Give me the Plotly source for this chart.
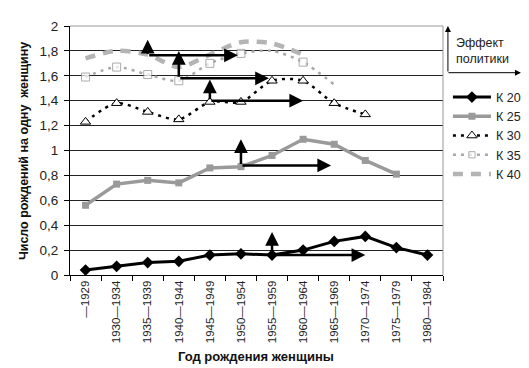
import plotly.graph_objects as go

categories = ["—1929", "1930—1934", "1935—1939", "1940—1944", "1945—1949", "1950—1954",
              "1955—1959", "1960—1964", "1965—1969", "1970—1974", "1975—1979", "1980—1984"]
series_names = ["К 20", "К 25", "К 30", "К 35", "К 40"]
k20 = [0.04, 0.07, 0.10, 0.11, 0.16, 0.17, 0.16, 0.20, 0.27, 0.31, 0.22, 0.16]
k25 = [0.56, 0.73, 0.76, 0.74, 0.86, 0.87, 0.96, 1.09, 1.05, 0.92, 0.81]
k30 = [1.23, 1.38, 1.31, 1.25, 1.39, 1.39, 1.56, 1.56, 1.38, 1.29]
k35 = [1.59, 1.67, 1.61, 1.56, 1.70, 1.78, 1.80, 1.71, 1.53]
k40 = [1.74, 1.80, 1.77, 1.67, 1.77, 1.87, 1.86, 1.77]

# policy-effect arrows (category index / value)
arrow_base_idx = [2, 3, 4, 5, 6]
arrow_base_val = [1.765, 1.58, 1.40, 0.88, 0.16]
arrow_up_val = [1.89, 1.80, 1.57, 1.09, 0.345]
arrow_right_idx = [4.9, 5.9, 7.0, 7.9, 9.0]

y_ticks = [0, 0.2, 0.4, 0.6, 0.8, 1.0, 1.2, 1.4, 1.6, 1.8, 2.0]

FONT = "Liberation Sans, Arial, sans-serif"

fig = go.Figure()
fig.add_trace(go.Scatter(x=categories[:len(k20)], y=k20, name=series_names[0], mode="lines+markers",
                         line=dict(color="black", width=3),
                         marker=dict(symbol="diamond", size=9, color="black"),
                         legendgroup="a"))
fig.add_trace(go.Scatter(x=categories[:len(k25)], y=k25, name=series_names[1], mode="lines+markers",
                         line=dict(color="#9a9a9a", width=3.5),
                         marker=dict(symbol="square", size=7, color="#9a9a9a"),
                         legendgroup="b"))
fig.add_trace(go.Scatter(x=categories[:len(k30)], y=k30, name=series_names[2], mode="lines+markers",
                         line=dict(color="black", width=2.5, dash="3px,5px", shape="spline", smoothing=0.8),
                         marker=dict(symbol="triangle-up", size=9, color="white",
                                     line=dict(color="black", width=1)),
                         legendgroup="c"))
k35_sizes = [8] * len(k35)
k35_sizes[6] = 0
k35_sizes[-1] = 0
fig.add_trace(go.Scatter(x=categories[:len(k35)], y=k35, name=series_names[3], mode="lines+markers",
                         line=dict(color="#a8a8a8", width=2.5, dash="3px,5px", shape="spline", smoothing=0.8),
                         marker=dict(symbol="square", size=k35_sizes, color="white",
                                     line=dict(color="#8a8a8a", width=1)),
                         legendgroup="d"))
fig.add_trace(go.Scatter(x=categories[:len(k40)], y=k40, name=series_names[4], mode="lines",
                         line=dict(color="#b4b4b4", width=4.5, dash="10px,8px", shape="spline", smoothing=0.8),
                         legendgroup="e"))

annotations = []
for bi, bv, uv, ri in zip(arrow_base_idx, arrow_base_val, arrow_up_val, arrow_right_idx):
    annotations.append(dict(x=bi, y=uv, ax=bi, ay=bv, xref="x", yref="y", axref="x", ayref="y",
                            text="", showarrow=True, arrowhead=2, arrowsize=1.1, arrowwidth=2.5,
                            arrowcolor="black"))
    annotations.append(dict(x=ri, y=bv, ax=bi, ay=bv, xref="x", yref="y", axref="x", ayref="y",
                            text="", showarrow=True, arrowhead=2, arrowsize=1.1, arrowwidth=2.5,
                            arrowcolor="black"))

# "Эффект политики" key
annotations.append(dict(x=(445 - 62) / 378, y=1.0, xref="paper", yref="paper", ax=0, ay=47,
                        text="", showarrow=True, arrowhead=2, arrowsize=1.2, arrowwidth=1,
                        arrowcolor="black"))
annotations.append(dict(x=(519 - 62) / 378, y=1 - (59 - 11) / 256, xref="paper", yref="paper",
                        ax=-74, ay=0, text="", showarrow=True, arrowhead=2, arrowsize=1.2,
                        arrowwidth=1, arrowcolor="black"))
annotations.append(dict(x=(451 - 62) / 378, y=1 - (19 - 11) / 256, xref="paper", yref="paper",
                        text="Эффект<br>политики", showarrow=False, xanchor="left", yanchor="top",
                        align="left", font=dict(family=FONT, size=12.5, color="#222")))

# axis titles
annotations.append(dict(x=(250 - 62) / 378, y=-(351 - 267) / 256, xref="paper", yref="paper",
                        text="<b>Год рождения женщины</b>", showarrow=False,
                        xanchor="center", yanchor="middle",
                        font=dict(family=FONT, size=13, color="#111")))
annotations.append(dict(x=-(62 - 16) / 378, y=1 - (140 - 11) / 256, xref="paper", yref="paper",
                        text="<b>Число рождений на одну  женщину</b>", showarrow=False, textangle=-90,
                        xanchor="center", yanchor="middle",
                        font=dict(family=FONT, size=12.5, color="#111")))

fig.update_layout(
    width=529, height=368,
    margin=dict(l=62, r=89, t=11, b=101),
    paper_bgcolor="white", plot_bgcolor="white",
    separators=", ",
    font=dict(family=FONT, color="#222"),
    showlegend=True,
    legend=dict(x=(445 - 62) / 378, y=1 - (69 - 11) / 256, xanchor="left", yanchor="top",
                font=dict(family=FONT, size=12.5, color="#222"), itemwidth=38,
                tracegroupgap=0, bgcolor="rgba(0,0,0,0)"),
    annotations=annotations,
    shapes=[
        dict(type="line", xref="paper", yref="paper", x0=0, x1=1, y0=1, y1=1,
             line=dict(color="#999", width=1)),
        dict(type="line", xref="paper", yref="paper", x0=1, x1=1, y0=0, y1=1,
             line=dict(color="#999", width=1)),
    ],
)
fig.update_xaxes(type="category", categoryorder="array", categoryarray=categories,
                 range=[-0.5, len(categories) - 0.5],
                 tickson="boundaries", ticks="outside", ticklen=5, tickcolor="black",
                 tickangle=-90, tickfont=dict(family=FONT, size=11.5, color="#222"),
                 showline=True, linecolor="black", linewidth=1, showgrid=False, zeroline=False)
fig.update_yaxes(range=[0, 2], tickvals=y_ticks, ticks="outside", ticklen=5, tickcolor="black",
                 tickfont=dict(family=FONT, size=13.5, color="#222"), ticklabelstandoff=3,
                 showline=True, linecolor="black", linewidth=1,
                 showgrid=True, gridcolor="#222", gridwidth=1, zeroline=False)

fig.write_html("out.html")
